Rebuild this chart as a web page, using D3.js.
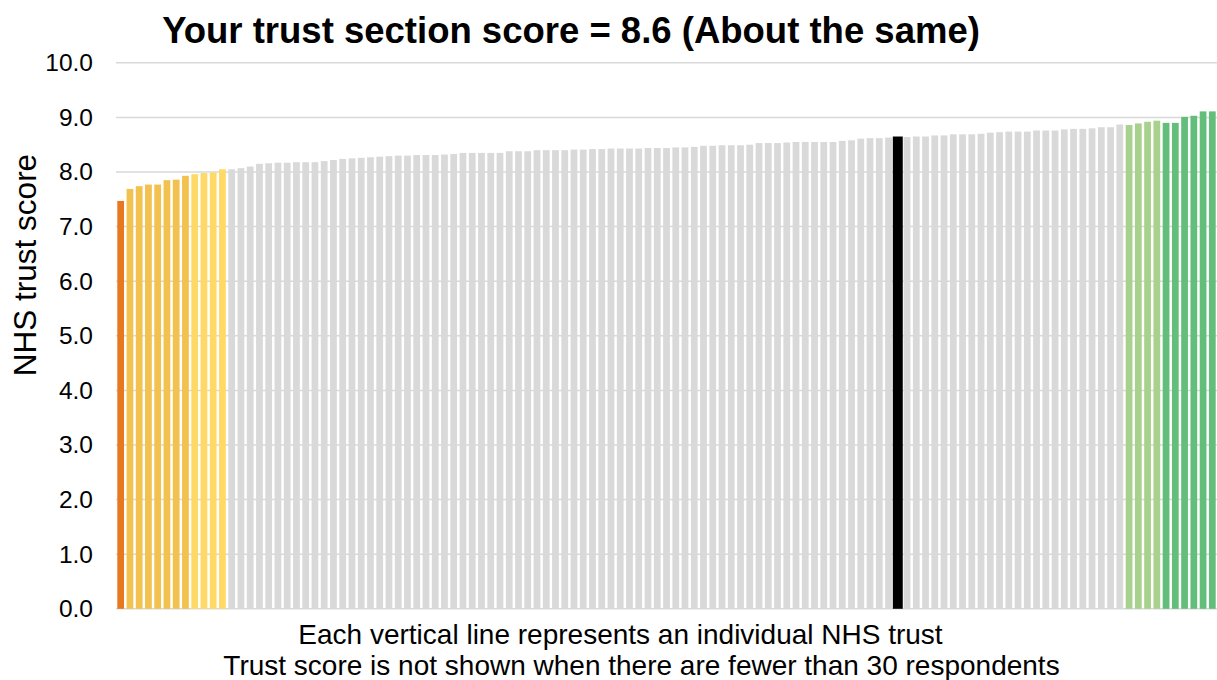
<!DOCTYPE html>
<html><head><meta charset="utf-8">
<script src="https://cdn.jsdelivr.net/npm/d3@7"></script>
<style>body{margin:0;background:#fff}svg{display:block}text{font-family:"Liberation Sans",Arial,sans-serif}</style>
</head><body>
<svg id="c" width="1217" height="680"></svg>
<script>
const scores = [7.47,7.69,7.74,7.77,7.77,7.85,7.86,7.93,7.96,7.98,7.99,8.05,
8.05,8.07,8.10,8.15,8.16,8.17,8.17,8.18,8.18,8.18,8.20,8.22,8.24,8.25,8.26,8.27,8.28,8.29,
8.30,8.30,8.31,8.31,8.31,8.32,8.33,8.35,8.35,8.35,8.35,8.35,8.38,8.38,8.38,8.40,8.40,8.40,8.40,8.41,
8.41,8.42,8.42,8.43,8.43,8.43,8.43,8.44,8.44,8.44,8.45,8.45,8.46,8.48,8.48,8.49,8.49,8.49,8.50,8.53,
8.53,8.53,8.54,8.55,8.55,8.55,8.55,8.55,8.57,8.58,8.61,8.62,8.62,8.63,8.65,8.64,8.65,8.65,8.67,8.67,
8.69,8.69,8.69,8.70,8.72,8.73,8.74,8.74,8.74,8.76,8.76,8.76,8.78,8.79,8.79,8.80,8.82,8.82,8.87,
8.86,8.89,8.92,8.94,8.90,8.90,9.01,9.03,9.11,9.11];
// group per bar: o=orange, y1=dark yellow, y2=light yellow, g=grey, t=this trust, l=light green, d=dark green
const groups = ["o","y1","y1","y1","y1","y1","y1","y1","y2","y2","y2","y2"]
  .concat(Array(72).fill("g")).concat(["t"]).concat(Array(24).fill("g"))
  .concat(["l","l","l","l","d","d","d","d","d","d"]);
const yTicks = [0,1,2,3,4,5,6,7,8,9,10];
const titleText = "Your trust section score = 8.6 (About the same)";
const yLabel = "NHS trust score";
const notes = ["Each vertical line represents an individual NHS trust",
  "Trust score is not shown when there are fewer than 30 respondents"];
const colors = {o:"#E87722",y1:"#F2C14E",y2:"#FFD966",g:"#D9D9D9",t:"#000000",l:"#A9D18E",d:"#63BE7B"};

const svg = d3.select("#c");
const x = d3.scaleBand().domain(d3.range(scores.length)).range([116,1217]).paddingInner(0.27).paddingOuter(0.14);
const y = d3.scaleLinear().domain([0,10]).range([608.8,62.8]);

svg.append("g").selectAll("line").data(yTicks).join("line")
  .attr("x1",116).attr("x2",1217).attr("y1",d=>y(d)).attr("y2",d=>y(d))
  .attr("stroke","#D9D9D9").attr("stroke-width",1.5);

svg.append("g").selectAll("rect").data(scores).join("rect")
  .attr("x",(d,i)=>groups[i]==="t"? x(i)-1.6 : x(i))
  .attr("width",(d,i)=>groups[i]==="t"? x.bandwidth()+3.2 : x.bandwidth())
  .attr("y",d=>y(d)).attr("height",d=>y(0)-y(d))
  .attr("fill",(d,i)=>colors[groups[i]]);

const ax = svg.append("g").attr("transform","translate(116,0)")
  .call(d3.axisLeft(y).tickValues(yTicks).tickFormat(d3.format(".1f")).tickSize(0).tickPadding(23));
ax.select(".domain").remove();
ax.selectAll("text").attr("font-size",24.5).attr("fill","#000").attr("font-family","Liberation Sans, Arial, sans-serif");

svg.append("text").attr("x",571).attr("y",43).attr("text-anchor","middle")
  .attr("font-size",36.5).attr("font-weight","bold").text(titleText);
svg.append("text").attr("transform","translate(36,265) rotate(-90)").attr("text-anchor","middle")
  .attr("font-size",31.5).text(yLabel);
svg.append("text").attr("x",620.5).attr("y",644).attr("text-anchor","middle").attr("font-size",28).text(notes[0]);
svg.append("text").attr("x",641.5).attr("y",675).attr("text-anchor","middle").attr("font-size",28).text(notes[1]);
</script>
</body></html>
